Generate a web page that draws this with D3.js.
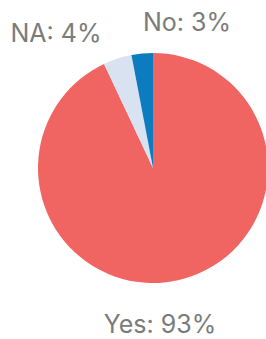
<!DOCTYPE html>
<html><head><meta charset="utf-8">
<script src="https://cdn.jsdelivr.net/npm/d3@7/dist/d3.min.js"></script>
<style>body{margin:0;background:#fff;}svg{display:block;}</style>
</head><body>
<script>
const categories = ["Yes", "NA", "No"];
const values = [93, 4, 3];
const colors = ["#F06461", "#D9E2F1", "#0C7BC0"];

const W = 266, H = 339, cx = 153, cy = 168, R = 115;
const svg = d3.select("body").append("svg").attr("width", W).attr("height", H);
const g = svg.append("g").attr("transform", `translate(${cx},${cy})`);
const pie = d3.pie().sort(null).value(d => d)(values);
const arc = d3.arc().innerRadius(0).outerRadius(R);
g.selectAll("path").data(pie).join("path")
  .attr("d", arc).attr("fill", (d, i) => colors[i]);

// label placement (layout only)
const labelPos = {
  "Yes": [160 - cx, 333 - cy],
  "NA": [56 - cx, 42 - cy],
  "No": [187 - cx, 31 - cy]
};
g.selectAll("text").data(pie).join("text")
  .attr("x", (d, i) => labelPos[categories[i]][0])
  .attr("y", (d, i) => labelPos[categories[i]][1])
  .attr("text-anchor", "middle")
  .attr("font-family", "Inter, Roboto, sans-serif")
  .attr("font-size", 25)
  .attr("fill", "#7a7c7b")
  .text((d, i) => `${categories[i]}: ${values[i]}%`);
</script>
</body></html>
